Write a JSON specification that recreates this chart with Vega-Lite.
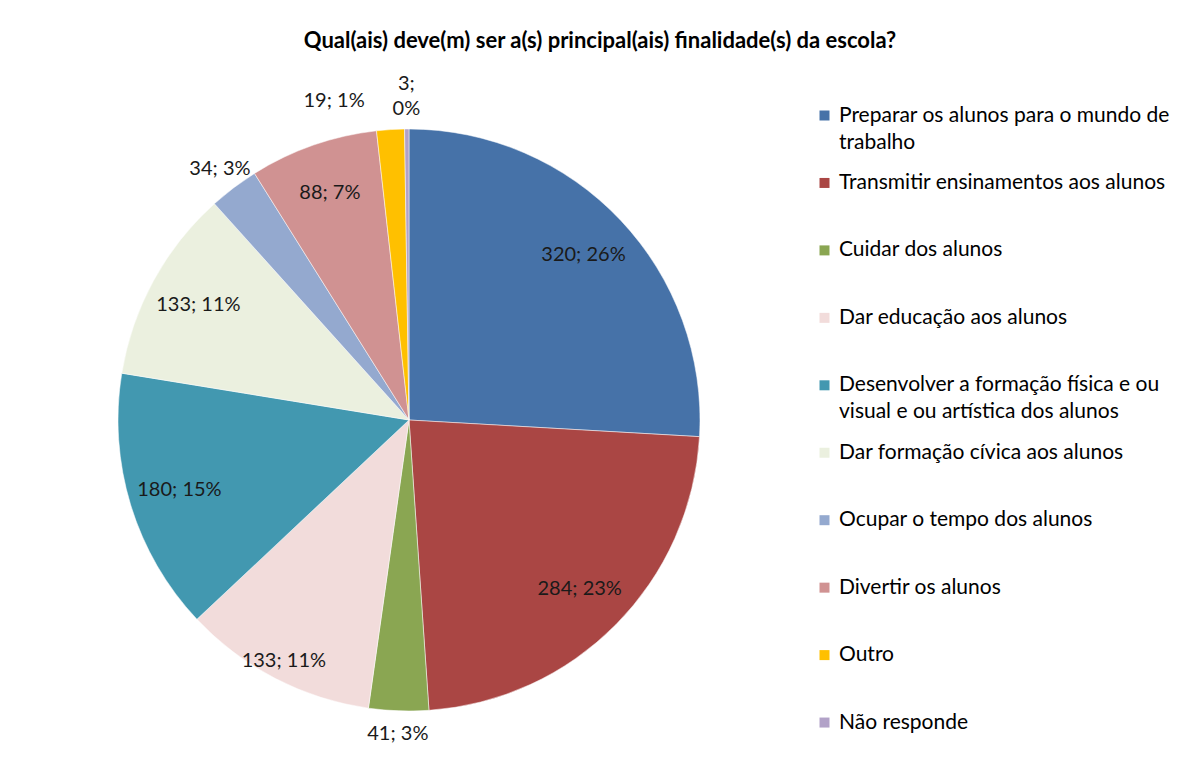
{
  "$schema": "https://vega.github.io/schema/vega-lite/v6.json",
  "width": 798,
  "height": 714,
  "padding": {"left": 10, "top": 30, "right": 0, "bottom": 0},
  "background": "white",
  "title": {
    "text": "Qual(ais) deve(m) ser a(s) principal(ais) finalidade(s) da escola?",
    "font": "Lato",
    "fontSize": 22,
    "fontWeight": "bold",
    "color": "#000000",
    "anchor": "middle",
    "frame": "bounds",
    "dx": 10,
    "offset": 10
  },
  "config": {
    "style": {"guide-label": {"lineHeight": 27}}
  },
  "data": {
    "values": [
      {"idx": 1, "cat": "Preparar os alunos para o mundo de trabalho", "value": 320, "label": "320; 26%"},
      {"idx": 2, "cat": "Transmitir ensinamentos aos alunos", "value": 284, "label": "284; 23%"},
      {"idx": 3, "cat": "Cuidar dos alunos", "value": 41, "label": "41; 3%"},
      {"idx": 4, "cat": "Dar educação aos alunos", "value": 133, "label": "133; 11%"},
      {"idx": 5, "cat": "Desenvolver a formação física e ou visual e ou artística dos alunos", "value": 180, "label": "180; 15%"},
      {"idx": 6, "cat": "Dar formação cívica aos alunos", "value": 133, "label": "133; 11%"},
      {"idx": 7, "cat": "Ocupar o tempo dos alunos", "value": 34, "label": "34; 3%"},
      {"idx": 8, "cat": "Divertir os alunos", "value": 88, "label": "88; 7%"},
      {"idx": 9, "cat": "Outro", "value": 19, "label": "19; 1%"},
      {"idx": 10, "cat": "Não responde", "value": 3, "label": "3;\n0%"}
    ]
  },
  "encoding": {
    "theta": {"field": "value", "type": "quantitative", "stack": true},
    "order": {"field": "idx", "type": "quantitative"}
  },
  "layer": [
    {
      "mark": {"type": "arc", "outerRadius": 291, "stroke": "white", "strokeWidth": 0.5},
      "encoding": {
        "color": {
          "field": "cat",
          "type": "nominal",
          "scale": {
            "domain": [
              "Preparar os alunos para o mundo de trabalho",
              "Transmitir ensinamentos aos alunos",
              "Cuidar dos alunos",
              "Dar educação aos alunos",
              "Desenvolver a formação física e ou visual e ou artística dos alunos",
              "Dar formação cívica aos alunos",
              "Ocupar o tempo dos alunos",
              "Divertir os alunos",
              "Outro",
              "Não responde"
            ],
            "range": ["#4672A8", "#AA4644", "#8AA652", "#F2DCDB", "#4298B0", "#EBF0DF", "#94A9CF", "#D09292", "#FFC000", "#B2A2C8"]
          },
          "legend": {
            "orient": "none",
            "legendX": 804,
            "legendY": 42,
            "title": null,
            "padding": 0,
            "symbolType": "square",
            "symbolSize": 100,
            "symbolStrokeWidth": 0,
            "labelFont": "Lato",
            "labelFontSize": 21,
            "labelColor": "#000000",
            "labelLimit": 400,
            "labelOffset": 4,
            "gridAlign": "all",
            "rowPadding": 18.45,
            "labelExpr": "datum.label == 'Preparar os alunos para o mundo de trabalho' ? ['Preparar os alunos para o mundo de', 'trabalho'] : datum.label == 'Desenvolver a formação física e ou visual e ou artística dos alunos' ? ['Desenvolver a formação física e ou', 'visual e ou artística dos alunos'] : datum.label"
          }
        }
      }
    },
    {
      "mark": {"type": "text", "radius": 240, "font": "Lato", "fontSize": 20, "color": "#1a1a1a"},
      "encoding": {
        "text": {"condition": {"test": "datum.value > 50 && datum.cat != 'Dar educação aos alunos'", "field": "label"}, "value": ""}
      }
    },
    {
      "mark": {"type": "text", "radius": 272, "font": "Lato", "fontSize": 20, "color": "#1a1a1a"},
      "encoding": {
        "text": {"condition": {"test": "datum.cat == 'Dar educação aos alunos'", "field": "label"}, "value": ""}
      }
    },
    {
      "mark": {"type": "text", "radius": 314, "font": "Lato", "fontSize": 20, "color": "#1a1a1a"},
      "encoding": {
        "text": {"condition": {"test": "datum.value < 50 && datum.cat != 'Outro' && datum.cat != 'Não responde'", "field": "label"}, "value": ""}
      }
    },
    {
      "mark": {"type": "text", "radius": 336, "font": "Lato", "fontSize": 20, "color": "#1a1a1a", "lineBreak": "\n", "lineHeight": 25},
      "encoding": {
        "text": {"condition": {"test": "datum.cat == 'Não responde'", "field": "label"}, "value": ""}
      }
    },
    {
      "mark": {"type": "text", "radius": 320, "font": "Lato", "fontSize": 20, "color": "#1a1a1a", "align": "right", "dx": -24},
      "encoding": {
        "text": {"condition": {"test": "datum.cat == 'Outro'", "field": "label"}, "value": ""}
      }
    }
  ]
}
